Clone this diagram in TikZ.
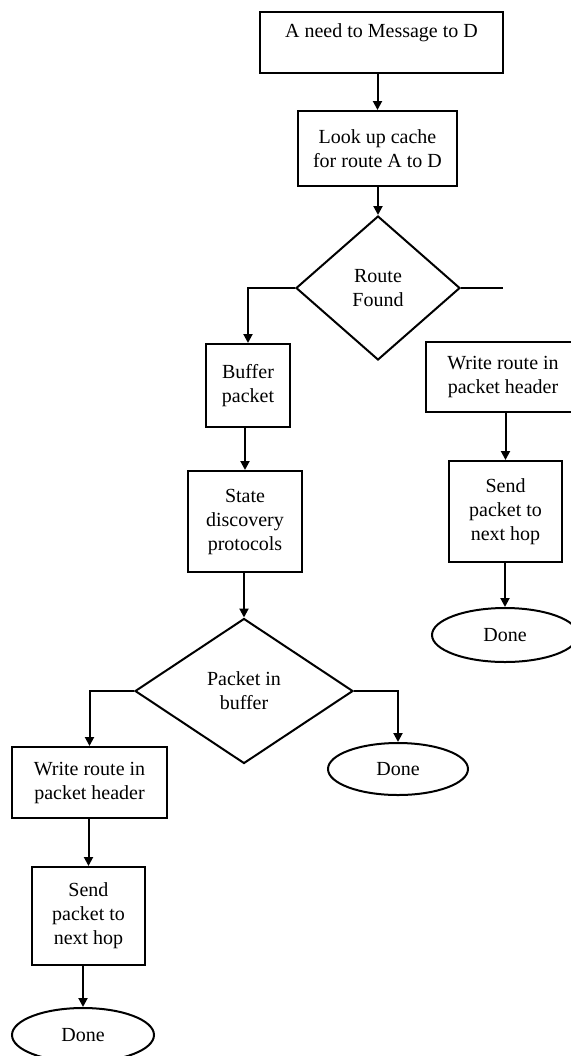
\documentclass[tikz,border=0pt]{standalone}
\usepackage{fontspec}
\setmainfont{Liberation Serif}
\usetikzlibrary{shapes.geometric,arrows.meta}
\begin{document}
\begin{tikzpicture}[x=1pt,y=1pt,
  line width=1pt,
  every node/.style={font=\fontsize{10}{12}\selectfont, align=center, inner sep=0pt},
  procbox/.style={draw, rectangle, minimum width=#1},
  decision/.style={draw, diamond},
  terminal/.style={draw, ellipse},
  arr/.style={-{Triangle[length=4.5pt,width=4.5pt]}}
]
\useasboundingbox (0,0) rectangle (285.5,-528);
\clip (0,0) rectangle (285.5,-528);
% top chain
\node[procbox=121.5pt, minimum height=30.5pt] (n1) at (190.75,-21.25) {A need to Message to D\\\mbox{}};
\node[procbox=79.5pt, minimum height=37.5pt] (n2) at (188.75,-74.25) {Look up cache\\for route A to D};
\node[decision, minimum width=82pt, minimum height=72pt] (d1) at (189,-144) {Route\\Found};
\coordinate (d1end) at (251.5,-144);
% left branch
\node[procbox=42pt, minimum height=41.5pt] (buf) at (124,-192.75) {Buffer\\packet};
\node[procbox=57pt, minimum height=50.5pt] (state) at (122.5,-260.75) {State\\discovery\\protocols};
\node[decision, minimum width=109pt, minimum height=72.5pt] (d2) at (122,-345.5) {Packet in\\buffer};
\node[procbox=77.5pt, minimum height=35.5pt] (wl) at (44.75,-391.25) {Write route in\\packet header};
\node[procbox=56.5pt, minimum height=49pt] (sl) at (44.25,-458) {Send\\packet to\\next hop};
\node[terminal, minimum width=71pt, minimum height=27pt] (dl) at (41.5,-517.5) {Done};
\node[terminal, minimum width=70pt, minimum height=26pt] (dm) at (199,-384.5) {Done};
% right column
\node[procbox=77pt, minimum height=35pt] (wr) at (251.5,-188.5) {Write route in\\packet header};
\node[procbox=56.5pt, minimum height=50.5pt] (sr) at (252.75,-255.75) {Send\\packet to\\next hop};
\node[terminal, minimum width=73pt, minimum height=27pt] (dr) at (252.5,-317.5) {Done};
% connectors
\draw[arr] (n1.south -| n2.north) -- (n2.north);
\draw[arr] (n2.south -| d1.north) -- (d1.north);
\draw (d1.east) -- (d1end);
\draw[arr] (d1.west) -| (buf.north);
\draw[arr] (buf.south -| state.north) -- (state.north);
\draw[arr] (state.south -| d2.north) -- (d2.north);
\draw[arr] (d2.west) -| (wl.north);
\draw[arr] (d2.east) -| (dm.north);
\draw[arr] (wl.south -| sl.north) -- (sl.north);
\draw[arr] (sl.south -| dl.north) -- (dl.north);
\draw[arr] (wr.south -| sr.north) -- (sr.north);
\draw[arr] (sr.south -| dr.north) -- (dr.north);
\end{tikzpicture}
\end{document}
